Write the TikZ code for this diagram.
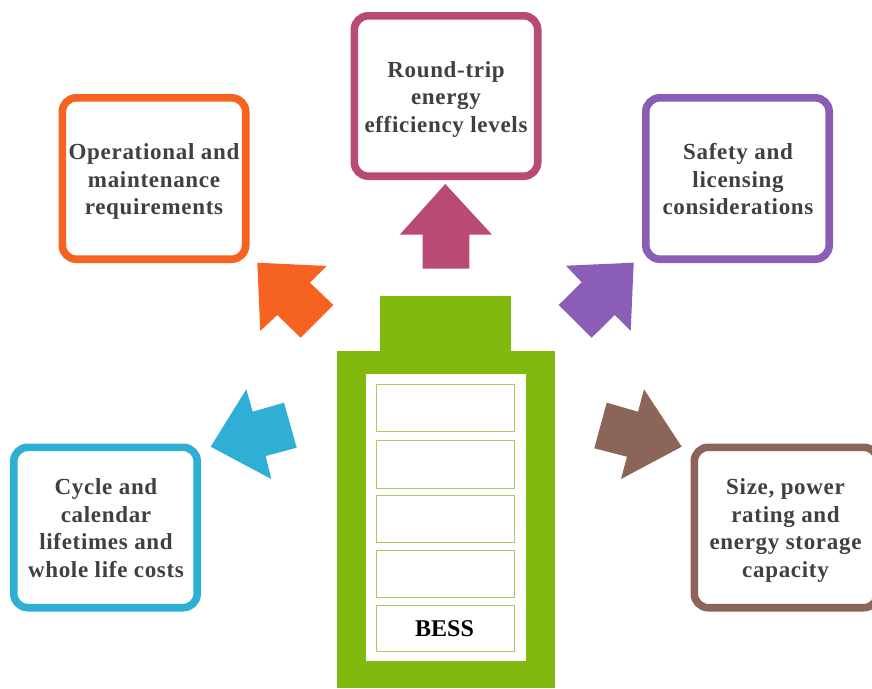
\documentclass[tikz,border=0pt]{standalone}
\usepackage{fontspec}
\setmainfont{Liberation Serif}
\definecolor{cOrange}{HTML}{F6621F}
\definecolor{cMagenta}{HTML}{B94A76}
\definecolor{cPurple}{HTML}{8A5DB6}
\definecolor{cBlue}{HTML}{2FAFD6}
\definecolor{cBrown}{HTML}{8B6558}
\definecolor{cGreen}{HTML}{82B90F}
\definecolor{cCell}{HTML}{A6CE5A}
\definecolor{cText}{HTML}{404040}
\tikzset{
  x=1pt,y=-1pt,
  infobox/.style={draw=#1,line width=7.6pt,rounded corners=14pt,fill=white,
    minimum width=183.4pt,minimum height=160.4pt,inner sep=0pt},
  infotext/.style={align=center,text=cText,inner sep=0pt,
    font=\fontsize{23}{27.5}\selectfont\bfseries\addfontfeatures{LetterSpace=3}},
  cellbox/.style={draw=cCell,line width=1pt,fill=white,minimum width=138.5pt,inner sep=0pt,
    font=\fontsize{24}{28}\selectfont\bfseries,text=black},
  arrowshape/.style={fill=#1,draw=none},
  greenpart/.style={fill=cGreen,draw=none}
}
\begin{document}
\begin{tikzpicture}
\useasboundingbox (0,0) rectangle (872,688);
\fill[white] (0,0) rectangle (872,688);
% battery
\fill[greenpart] (380,296) rectangle (511,352);
\fill[greenpart] (337,351) rectangle (555,688);
\fill[white] (366,374) rectangle (525.7,661.3);
\node[cellbox,minimum height=47pt] (c1) at (445.3,408) {};
\node[cellbox,minimum height=47.5pt] (c2) at (445.3,464.3) {};
\node[cellbox,minimum height=46.5pt] (c3) at (445.3,519) {};
\node[cellbox,minimum height=47.5pt] (c4) at (445.3,573.8) {};
\node[cellbox,minimum height=46.5pt] (c5) at (445.3,628.5) {\hspace*{-1.5pt}BESS};
% boxes
\node[infobox=cOrange,minimum height=161.4pt] (ops) at (154,178.5) {};
\node[infobox=cMagenta] (rte) at (446,96) {};
\node[infobox=cPurple,minimum height=161.4pt] (safe) at (737.5,178.5) {};
\node[infobox=cBlue] (life) at (105.5,527.5) {};
\node[infobox=cBrown] (size) at (786,527.5) {};
% texts
\node[infotext] (opst) at (154,181.5) {\strut Operational and\\maintenance\\requirements\strut};
\node[infotext] (rtet) at (446,99) {\strut Round-trip\\energy\\efficiency levels\strut};
\node[infotext] (safet) at (738,181.5) {\strut Safety and\\licensing\\considerations\strut};
\node[infotext] (lifet) at (106,530.5) {\strut Cycle and\\calendar\\lifetimes and\\whole life costs\strut};
\node[infotext] (sizet) at (785.5,530.5) {\strut Size, power\\rating and\\energy storage\\capacity\strut};
% arrows
\fill[arrowshape=cMagenta] (445.3,184) -- (492,234.7) -- (469.3,234.7) -- (469.3,268.7) -- (422.7,268.7) -- (422.7,234.7) -- (399.7,234.7) -- cycle;
\fill[arrowshape=cOrange] (257.3,262.7) -- (326.7,266) -- (310,282.7) -- (333.3,305) -- (300.7,337.7) -- (277.3,315) -- (260.3,331) -- cycle;
\fill[arrowshape=cPurple] (633.7,262.7) -- (566,265.7) -- (581.7,282.3) -- (558.7,305) -- (591.7,337.7) -- (614.7,315) -- (630.7,330.7) -- cycle;
\fill[arrowshape=cBlue] (210.7,446.7) -- (246.3,389.3) -- (252.7,411.7) -- (284,402.7) -- (296.7,447.7) -- (265.7,456) -- (271.3,479) -- cycle;
\fill[arrowshape=cBrown] (681.7,446.7) -- (644,389.3) -- (638,411.7) -- (606.7,402.7) -- (594.3,448.3) -- (627,456.7) -- (621,479) -- cycle;
\end{tikzpicture}
\end{document}
